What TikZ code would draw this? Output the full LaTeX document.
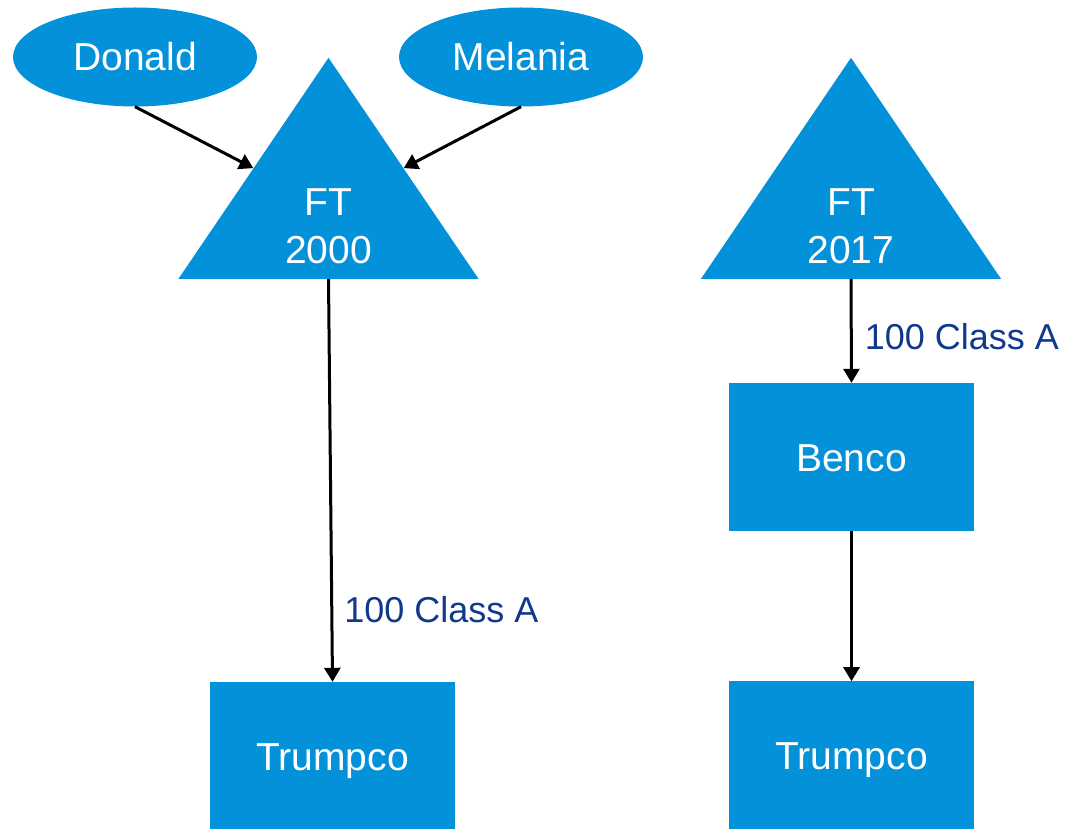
\documentclass[tikz,border=0pt]{standalone}
\usepackage{fontspec}
\setmainfont{Liberation Sans}
\usepackage{xcolor}
\usetikzlibrary{shapes,arrows.meta,positioning}
\definecolor{nodeblue}{RGB}{3,145,217}
\definecolor{labelblue}{RGB}{16,56,140}

\begin{document}
\begin{tikzpicture}[
    x=1pt, y=-1pt,
    person/.style={ellipse, fill=nodeblue, text=white, minimum width=244pt, minimum height=99pt, inner sep=0pt, font=\fontsize{39}{47}\selectfont},
    trust/.style={isosceles triangle, isosceles triangle stretches, shape border rotate=90, fill=nodeblue, minimum width=300pt, minimum height=221pt, inner sep=0pt, anchor=lower side},
    trusttext/.style={text=white, align=center, font=\fontsize{39}{48}\selectfont},
    company/.style={rectangle, fill=nodeblue, text=white, minimum width=245pt, minimum height=148pt, inner sep=0pt, text height=28pt, text depth=0pt, font=\fontsize{39}{47}\selectfont},
    share/.style={text=labelblue, inner sep=0pt, font=\fontsize{36}{43}\selectfont},
    link/.style={-{Triangle[length=14pt,width=16pt]}, line width=3pt}
]
    \useasboundingbox (0,0) rectangle (1068,829);

    % left structure
    \node[person] (donald) at (135,57) {Donald};
    \node[person] (melania) at (521,57) {Melania};
    \node[trust] (ft2000) at (328.5,279) {};
    \node[trusttext] (ft2000text) at (328.5,226) {FT\\2000};
    \node[company] (trumpcoL) at (332.5,756) {Trumpco};

    % right structure
    \node[trust] (ft2017) at (851,279) {};
    \node[trusttext] (ft2017text) at (851,226) {FT\\2017};
    \node[company] (benco) at (851.5,457) {Benco};
    \node[company, below=150pt of benco] (trumpcoR) {Trumpco};

    \draw[link] (donald.south) -- (ft2000.left side);
    \draw[link] (melania.south) -- (ft2000.right side);
    \draw[link] (ft2000.lower side) -- node[share, pos=0.82, right, xshift=11pt] {100 Class A} (trumpcoL.north);
    \draw[link] (ft2017.lower side) -- node[share, pos=0.56, right, xshift=12pt] {100 Class A} (benco.north);
    \draw[link] (benco.south) -- (trumpcoR.north);
\end{tikzpicture}
\end{document}
